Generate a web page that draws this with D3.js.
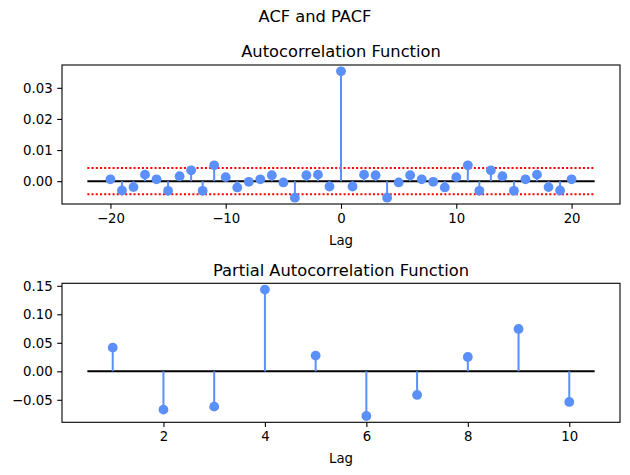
<!DOCTYPE html>
<html>
<head>
<meta charset="utf-8">
<script src="https://cdn.jsdelivr.net/npm/d3@7"></script>
<style>
  body { margin: 0; background: #fff; }
  svg { font-family: "DejaVu Sans", sans-serif; }
</style>
</head>
<body>
<div id="chart"></div>
<script>
// ACF values, lags -20..20
const acfLags = [-20, -19, -18, -17, -16, -15, -14, -13, -12, -11, -10, -9, -8, -7, -6, -5, -4, -3, -2, -1,
  0, 1, 2, 3, 4, 5, 6, 7, 8, 9, 10, 11, 12, 13, 14, 15, 16, 17, 18, 19, 20];
const acfValues = [0.0006, -0.0030, -0.0019, 0.0021, 0.0006, -0.0031, 0.0016, 0.0035, -0.0031, 0.0051,
  0.0013, -0.0020, -0.0002, 0.0006, 0.0019, -0.0004, -0.0053, 0.0019, 0.0021, -0.0017,
  0.0353,
  -0.0017, 0.0021, 0.0019, -0.0053, -0.0004, 0.0019, 0.0006, -0.0002, -0.0020, 0.0013,
  0.0051, -0.0031, 0.0035, 0.0016, -0.0031, 0.0006, 0.0021, -0.0019, -0.0030, 0.0006];
const acfBound = 0.0042;
const acfXTicks = [-20, -10, 0, 10, 20];
const acfYTicks = [0.00, 0.01, 0.02, 0.03];

// PACF values, lags 1..10
const pacfLags = [1, 2, 3, 4, 5, 6, 7, 8, 9, 10];
const pacfValues = [0.0415, -0.0673, -0.0620, 0.1433, 0.0275, -0.0784, -0.0415, 0.0251, 0.0743, -0.0538];
const pacfXTicks = [2, 4, 6, 8, 10];
const pacfYTicks = [-0.05, 0.00, 0.05, 0.10, 0.15];

const width = 630, height = 475;
const blue = "#5b8ff9";
const tickFont = 13.3, titleFont = 16.3;

const svg = d3.select("#chart")
  .append("svg")
  .attr("width", width)
  .attr("height", height);

svg.append("text")
  .attr("x", width / 2)
  .attr("y", 22.3)
  .attr("text-anchor", "middle")
  .attr("font-size", titleFont)
  .text("ACF and PACF");

// pad a [lo, hi] range by 5% on each side, like matplotlib margins
function pad(ext) {
  const m = (ext[1] - ext[0]) * 0.05;
  return [ext[0] - m, ext[1] + m];
}

function stemPanel(opt) {
  const x = d3.scaleLinear().domain(pad(opt.hRange)).range([62, 620]);
  const y = d3.scaleLinear().domain(pad(opt.yExtent)).range([opt.bottom, opt.top]);
  const g = svg.append("g");

  const xAxis = g.append("g")
    .attr("transform", `translate(0,${opt.bottom})`)
    .call(d3.axisBottom(x).tickValues(opt.xTicks).tickFormat(d3.format("d"))
      .tickSize(4.8).tickPadding(4.5).tickSizeOuter(0));
  const yAxis = g.append("g")
    .attr("transform", "translate(62,0)")
    .call(d3.axisLeft(y).tickValues(opt.yTicks).tickFormat(d3.format(".2f"))
      .tickSize(4.8).tickPadding(4.5).tickSizeOuter(0));
  [xAxis, yAxis].forEach(a => {
    a.select(".domain").remove();
    a.selectAll("text").attr("font-size", tickFont).attr("font-family", "DejaVu Sans").attr("fill", "#000");
    a.selectAll("line").attr("stroke", "#000").attr("stroke-width", 1.1);
  });

  g.append("rect")
    .attr("x", 62).attr("y", opt.top)
    .attr("width", 558).attr("height", opt.bottom - opt.top)
    .attr("fill", "none").attr("stroke", "#000").attr("stroke-width", 1.1);

  // zero line
  g.append("line")
    .attr("x1", x(opt.hRange[0])).attr("x2", x(opt.hRange[1]))
    .attr("y1", y(0)).attr("y2", y(0))
    .attr("stroke", "#000").attr("stroke-width", 2);

  if (opt.bound) {
    g.selectAll(".bound")
      .data([opt.bound, -opt.bound])
      .join("line")
      .attr("x1", x(opt.hRange[0])).attr("x2", x(opt.hRange[1]))
      .attr("y1", d => y(d)).attr("y2", d => y(d))
      .attr("stroke", "red").attr("stroke-width", 2)
      .attr("stroke-dasharray", "2,2.2");
  }

  const pts = opt.lags.map((l, i) => ({ lag: l, v: opt.values[i] }));

  g.selectAll(".stem")
    .data(pts)
    .join("line")
    .attr("x1", d => x(d.lag)).attr("x2", d => x(d.lag))
    .attr("y1", y(0)).attr("y2", d => y(d.v))
    .attr("stroke", blue).attr("stroke-width", 2);

  g.selectAll(".dot")
    .data(pts)
    .join("circle")
    .attr("cx", d => x(d.lag)).attr("cy", d => y(d.v))
    .attr("r", 4.9)
    .attr("fill", blue);

  g.append("text")
    .attr("x", 341).attr("y", opt.top - 7.7)
    .attr("text-anchor", "middle")
    .attr("font-size", titleFont)
    .text(opt.title);

  g.append("text")
    .attr("x", 341).attr("y", opt.bottom + 40.5)
    .attr("text-anchor", "middle")
    .attr("font-size", tickFont)
    .text("Lag");
}

stemPanel({
  title: "Autocorrelation Function",
  top: 65, bottom: 204,
  lags: acfLags, values: acfValues,
  hRange: [-22, 22],
  yExtent: [d3.min([...acfValues, -acfBound]), d3.max([...acfValues, acfBound])],
  bound: acfBound,
  xTicks: acfXTicks, yTicks: acfYTicks
});

stemPanel({
  title: "Partial Autocorrelation Function",
  top: 283.3, bottom: 422.3,
  lags: pacfLags, values: pacfValues,
  hRange: [0.5, 10.5],
  yExtent: d3.extent(pacfValues),
  xTicks: pacfXTicks, yTicks: pacfYTicks
});
</script>
</body>
</html>
